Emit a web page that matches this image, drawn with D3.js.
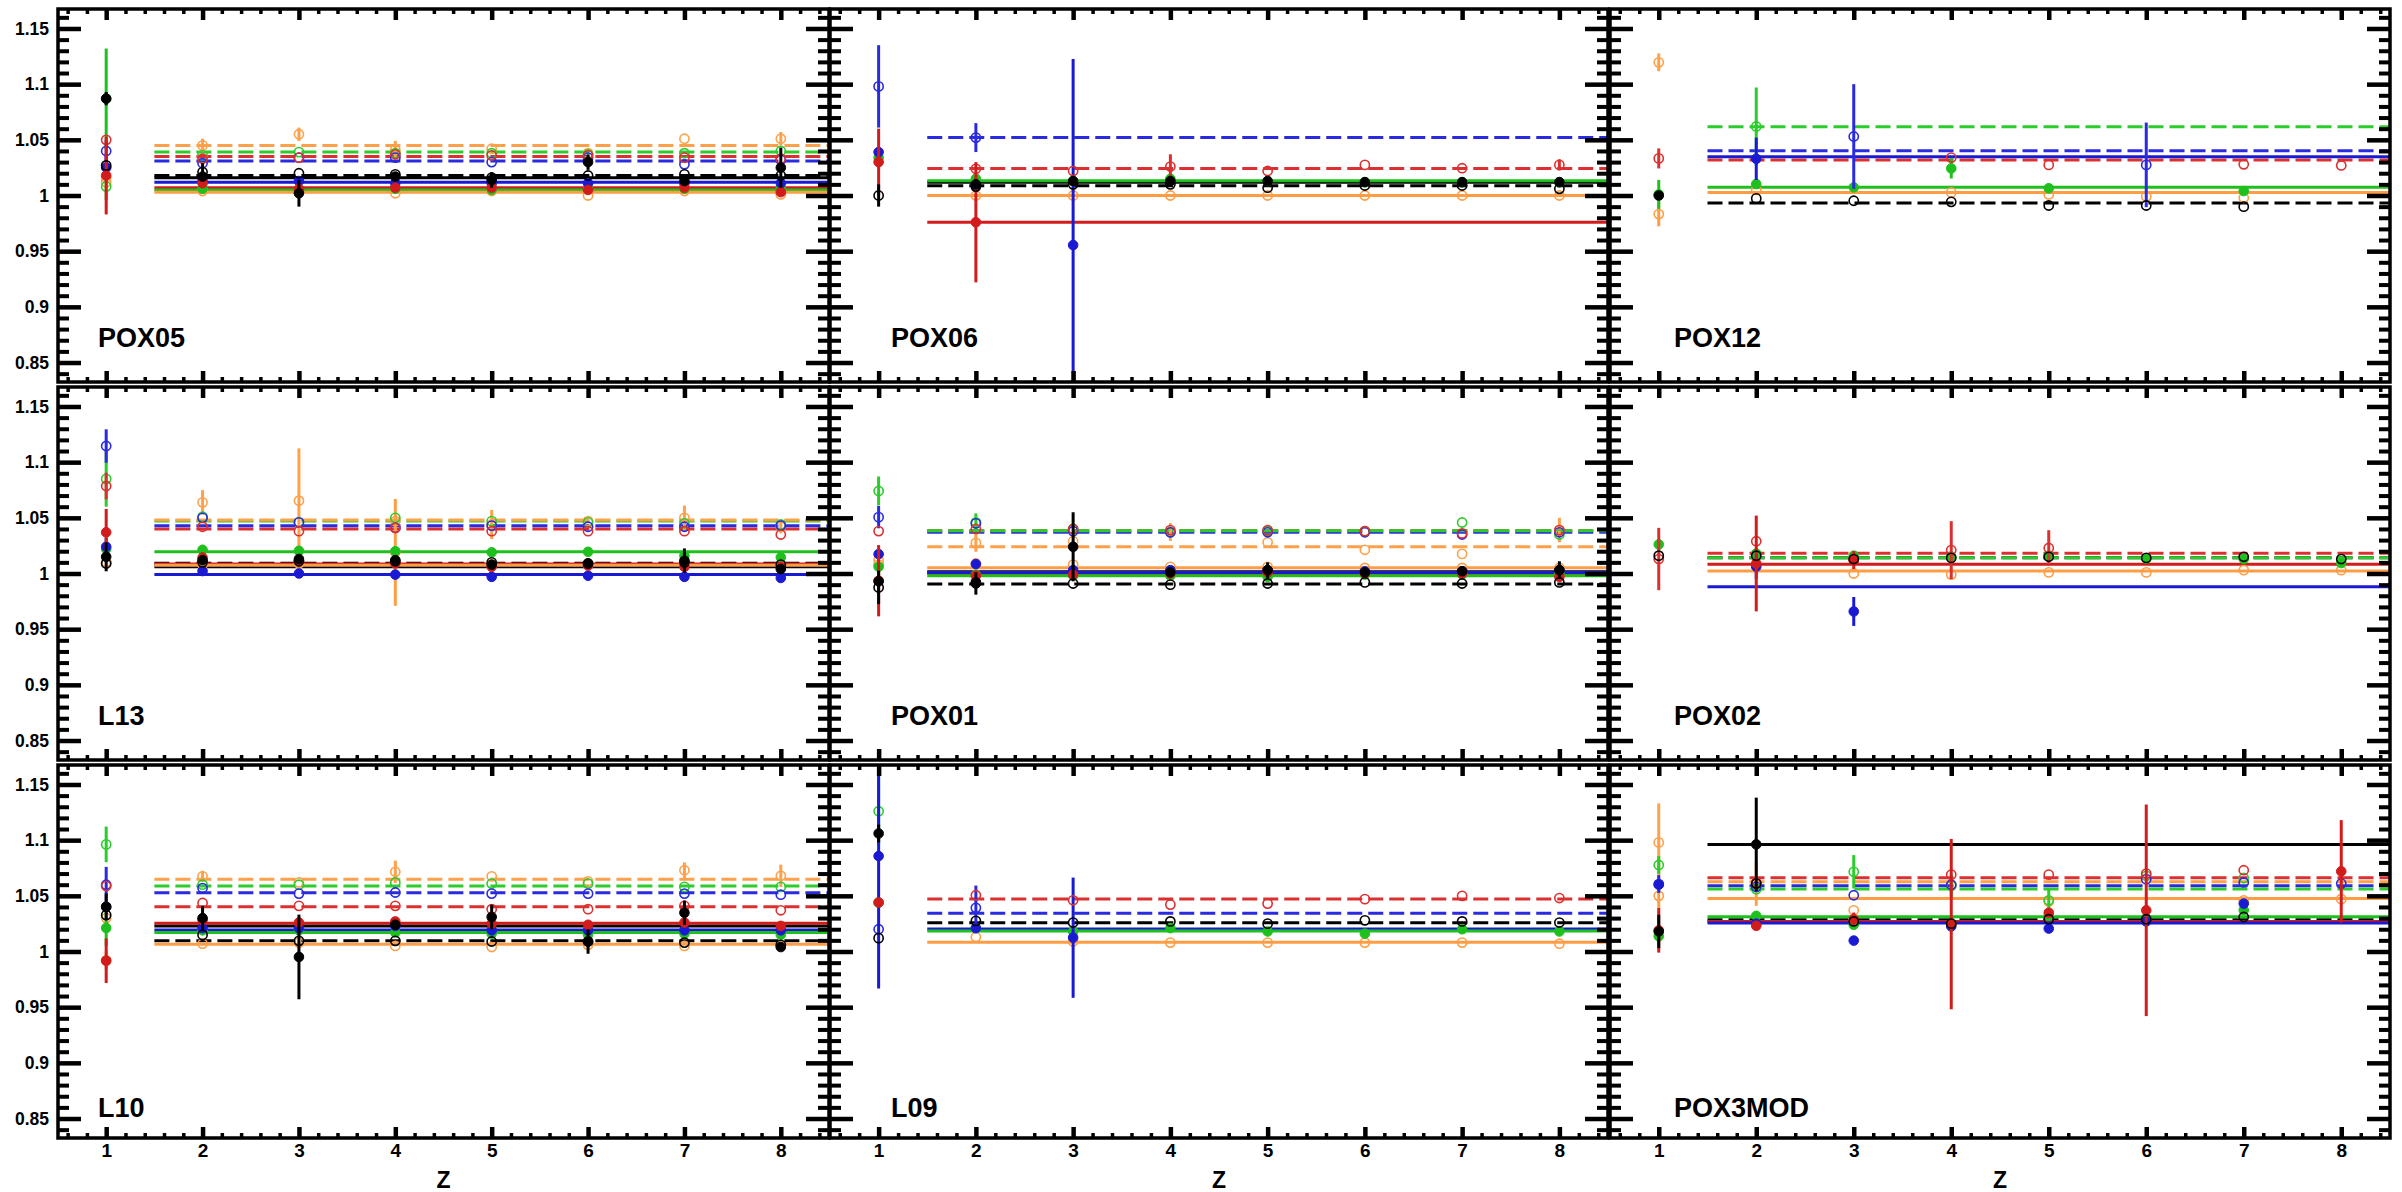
<!DOCTYPE html>
<html>
<head>
<meta charset="utf-8">
<script src="https://cdn.jsdelivr.net/npm/d3@7"></script>
<style>
  body { margin: 0; background: #ffffff; }
  svg { display: block; }
  text { font-family: "Liberation Sans", Arial, Helvetica, sans-serif; font-weight: bold; fill: #000; }
</style>
</head>
<body>
<svg id="chart" width="2402" height="1192"></svg>
<script>
// ---- axis content ----
const zValues = [1, 2, 3, 4, 5, 6, 7, 8];
const xTickLabels = ["1", "2", "3", "4", "5", "6", "7", "8"];
const yTicks = [0.85, 0.9, 0.95, 1, 1.05, 1.1, 1.15];
const yTickLabels = ["0.85", "0.9", "0.95", "1", "1.05", "1.1", "1.15"];
const xTitle = "Z";
const panelNames = ["POX05", "POX06", "POX12", "L13", "POX01", "POX02", "L10", "L09", "POX3MOD"];

// ---- series: colour pairs, filled points with solid fit, open points with dashed fit ----
// order: black●, black○, red●, red○, blue●, blue○, green●, green○, orange (solid fit), orange (dashed fit)
const seriesColor  = ["#000000", "#000000", "#d21c1c", "#dc3030", "#1a1ad2", "#2a2ae0", "#1ec01e", "#2ccc2c", "#ff9d45", "#ffa04a"];
const seriesFilled = [true, false, true, false, true, false, true, false, false, false];
const seriesDashed = [false, true, false, true, false, true, false, true, false, true];

// ---- per-panel values: fit constants, points (Z = 1..8), visible error bars [series, Z, error] ----
const POX05_fit = [1.016, 1.018, 1.007, 1.035, 1.012, 1.031, 1.005, 1.039, 1.003, 1.045];
const POX05_val = [
  [1.087, 1.017, 1.002, 1.017, 1.014, 1.030, 1.013, 1.025],
  [1.027, 1.021, 1.020, 1.019, 1.016, 1.018, 1.019, 1.018],
  [1.018, 1.011, 1.006, 1.007, 1.007, 1.005, 1.007, 1.003],
  [1.050, 1.033, 1.034, 1.037, 1.036, 1.036, 1.034, 1.033],
  [1.025, 1.013, 1.013, 1.011, 1.011, 1.011, 1.011, 1.011],
  [1.040, 1.029, 1.034, 1.034, 1.030, 1.034, 1.028, 1.032],
  [1.087, 1.006, 1.004, 1.006, 1.005, 1.006, 1.006, 1.006],
  [1.008, 1.036, 1.039, 1.038, 1.038, 1.037, 1.038, 1.040],
  [1.012, 1.004, 1.003, 1.002, 1.004, 1.000, 1.004, 1.001],
  [1.016, 1.045, 1.055, 1.041, 1.042, 1.038, 1.051, 1.051]
];
const POX05_err = [[0,1,0.006],[6,1,0.045],[7,1,0.012],[2,1,0.035],[5,1,0.010],[4,1,0.012],[0,3,0.012],[0,5,0.007],[0,6,0.007],[0,8,0.018],[9,2,0.006],[9,3,0.006],[9,4,0.008],[9,8,0.006],[1,2,0.008]];

const POX06_fit = [1.012, 1.0088, 0.9759, 1.0243, null, 1.0522, 1.0133, null, 1.000, null];
const POX06_val = [
  [null, 1.010, 1.013, 1.013, 1.013, 1.012, 1.012, 1.012],
  [1.000, 1.008, 1.010, 1.010, 1.007, 1.009, 1.009, 1.006],
  [1.030, 0.976, null, null, null, null, null, null],
  [null, 1.024, 1.022, 1.026, 1.022, 1.0275, 1.0245, 1.0275],
  [1.039, 1.009, 0.9555, null, null, null, null, null],
  [1.098, 1.052, null, null, null, null, null, null],
  [1.034, 1.015, 1.013, 1.015, 1.013, 1.012, 1.012, 1.012],
  [null, null, null, null, null, null, null, null],
  [null, 1.000, 1.000, 1.000, 1.000, 1.000, 1.000, 1.000],
  [null, null, null, null, null, null, null, null]
];
const POX06_err = [[5,1,0.037],[2,1,0.030],[1,1,0.010],[5,2,0.013],[2,2,0.054],[4,3,0.167],[3,4,0.011],[3,8,0.005],[6,4,0.005]];

const POX12_fit = [null, 0.9932, null, 1.0318, 1.0348, 1.0402, 1.0073, 1.0618, 1.0028, null];
const POX12_val = [
  [1.000, null, null, null, null, null, null, null],
  [null, 0.9974, 0.9953, 0.9943, 0.991, 0.991, 0.990, null],
  [null, null, null, null, null, null, null, null],
  [1.0333, null, null, 1.034, 1.0275, null, 1.028, 1.027],
  [null, 1.033, null, null, null, null, null, null],
  [null, null, 1.053, null, null, 1.0275, null, null],
  [1.001, 1.0103, 1.0073, 1.0243, 1.0065, null, 1.004, null],
  [null, 1.062, null, null, null, null, null, null],
  [0.9833, 1.005, null, 1.0028, 1.001, 0.999, 0.998, null],
  [1.1196, null, null, null, null, null, null, null]
];
const POX12_err = [[9,1,0.008],[3,1,0.009],[6,1,0.013],[8,1,0.011],[7,2,0.035],[4,2,0.019],[5,3,0.047],[6,4,0.009],[5,6,0.038]];

const L13_fit = [1.006, 1.0091, 1.0085, 1.0399, 0.999, 1.0429, 1.0195, 1.0471, 1.0075, 1.048];
const L13_val = [
  [1.015, 1.012, 1.013, 1.012, 1.008, 1.009, 1.0115, 1.004],
  [1.009, 1.010, 1.011, 1.011, 1.010, 1.009, 1.010, 1.008],
  [1.037, 1.0142, 1.0114, 1.009, 1.006, 1.007, 1.006, 1.006],
  [1.0786, 1.042, 1.038, 1.041, 1.038, 1.038, 1.038, 1.035],
  [1.024, 1.0022, 1.000, 0.999, 0.997, 0.998, 0.997, 0.996],
  [1.1145, 1.050, 1.046, 1.041, 1.043, 1.042, 1.042, 1.043],
  [1.022, 1.0213, 1.0204, 1.020, 1.019, 1.0195, 1.016, 1.0145],
  [1.085, 1.051, 1.046, 1.050, 1.047, 1.046, 1.045, 1.044],
  [1.010, 1.008, 1.009, 1.019, 1.008, 1.008, 1.009, 1.008],
  [1.010, 1.0639, 1.0654, 1.047, 1.044, 1.047, 1.050, 1.042]
];
const L13_err = [[5,1,0.015],[7,1,0.025],[3,1,0.012],[2,1,0.021],[6,1,0.006],[4,1,0.008],[0,1,0.013],[9,2,0.011],[9,3,0.047],[8,4,0.048],[9,5,0.013],[9,7,0.011],[0,7,0.011],[9,8,0.006],[2,2,0.005]];

const POX01_fit = [1.0015, 0.9905, 1.000, 1.0385, 1.001, 1.037, 0.998, 1.0385, 1.0052, 1.024];
const POX01_val = [
  [0.993, 0.991, 1.024, 1.001, 1.003, 1.001, 1.002, 1.003],
  [0.9875, 0.992, 0.991, 0.990, 0.991, 0.992, 0.991, 0.992],
  [0.9935, 0.998, 0.999, 1.000, 1.001, 1.000, 1.000, 0.997],
  [1.0381, 1.040, 1.040, 1.039, 1.039, 1.038, 1.036, 1.039],
  [1.0174, 1.0085, 1.003, 1.003, 1.003, 1.002, 1.002, 1.003],
  [1.0506, 1.045, 1.038, 1.037, 1.037, 1.037, 1.035, 1.037],
  [1.0061, 0.999, 0.998, 0.998, 0.997, 0.999, 0.999, 1.000],
  [1.0741, 1.046, 1.040, 1.037, 1.038, 1.038, 1.0458, 1.035],
  [1.008, 1.009, 1.008, 1.006, 1.006, 1.005, 1.005, 1.005],
  [1.012, 1.0275, 1.029, 1.0373, 1.028, 1.0213, 1.0176, 1.039]
];
const POX01_err = [[7,1,0.013],[5,1,0.010],[2,1,0.032],[1,1,0.015],[0,2,0.010],[0,3,0.031],[9,4,0.008],[0,5,0.007],[9,8,0.011],[0,8,0.008],[7,2,0.008],[9,2,0.008],[8,1,0.010]];

const POX02_fit = [null, 1.0142, 1.0082, 1.0181, 0.9881, null, null, 1.0142, 1.0022, null];
const POX02_val = [
  [null, null, null, null, null, null, null, null],
  [1.016, 1.016, 1.013, 1.014, 1.015, 1.014, 1.015, 1.013],
  [null, 1.009, 1.012, null, null, null, null, null],
  [1.013, 1.029, 1.012, 1.021, 1.0229, null, null, null],
  [null, 1.0061, 0.9659, null, null, null, null, null],
  [null, null, null, null, null, null, null, null],
  [1.0261, 1.018, 1.016, 1.015, 1.016, 1.0133, 1.013, 1.0094],
  [null, null, null, null, null, null, null, null],
  [null, null, 1.000, 0.999, 1.001, 1.001, 1.003, 1.003],
  [null, null, null, null, null, null, null, null]
];
const POX02_err = [[3,1,0.028],[2,2,0.043],[4,2,0.011],[4,3,0.013],[2,3,0.008],[3,4,0.026],[3,5,0.016],[6,1,0.005],[6,3,0.004]];

const L10_fit = [1.023, 1.0096, 1.0253, 1.0402, 1.0193, 1.0528, 1.017, 1.0588, 1.0066, 1.0648];
const L10_val = [
  [1.0402, 1.030, 0.9951, 1.024, 1.031, 1.009, 1.0348, 1.004],
  [1.0327, 1.0149, 1.0096, 1.0096, 1.009, 1.009, 1.008, 1.006],
  [0.9917, 1.0283, 1.026, 1.027, 1.025, 1.024, 1.026, 1.023],
  [1.0588, 1.0436, 1.041, 1.041, 1.038, 1.038, 1.041, 1.037],
  [1.040, 1.021, 1.021, 1.023, 1.019, 1.019, 1.019, 1.019],
  [1.060, 1.057, 1.052, 1.053, 1.052, 1.052, 1.052, 1.051],
  [1.0211, 1.019, 1.019, 1.017, 1.016, 1.015, 1.016, 1.015],
  [1.0962, 1.060, 1.060, 1.062, 1.061, 1.061, 1.058, 1.058],
  [0.992, 1.007, 1.008, 1.005, 1.004, 1.006, 1.005, 1.005],
  [1.030, 1.0675, 1.062, 1.0716, 1.0675, 1.063, 1.073, 1.068]
];
const L10_err = [[7,1,0.016],[5,1,0.016],[0,1,0.012],[6,1,0.016],[2,1,0.020],[8,1,0.008],[0,2,0.011],[0,3,0.038],[9,4,0.010],[0,5,0.011],[0,6,0.011],[9,7,0.007],[0,7,0.011],[9,8,0.010],[9,2,0.005]];

const L09_fit = [null, 1.0259, null, 1.0471, 1.0202, 1.0343, 1.0185, null, 1.0082, null];
const L09_val = [
  [1.106, null, null, null, null, null, null, null],
  [1.012, 1.0275, 1.026, 1.027, 1.025, 1.028, 1.027, 1.026],
  [1.044, null, null, null, null, null, null, null],
  [null, 1.0505, 1.046, 1.0421, 1.043, 1.047, 1.050, 1.048],
  [1.0857, 1.021, 1.0124, null, null, null, null, null],
  [1.020, 1.0392, null, null, null, null, null, null],
  [1.044, 1.021, 1.018, 1.021, 1.018, 1.016, 1.020, 1.018],
  [1.126, null, null, null, null, null, null, null],
  [null, 1.013, 1.009, 1.008, 1.008, 1.008, 1.008, 1.007],
  [null, null, null, null, null, null, null, null]
];
const L09_err = [[0,1,0.008],[7,1,0.030],[4,1,0.119],[5,2,0.020],[4,3,0.054]];

const POX3MOD_fit = [1.0962, 1.0285, 1.027, 1.0663, 1.0255, 1.0591, 1.0312, 1.0561, 1.0477, 1.0627];
const POX3MOD_val = [
  [1.018, 1.0962, null, null, null, null, null, null],
  [null, 1.061, 1.027, 1.025, 1.029, 1.029, 1.031, null],
  [1.019, 1.0231, 1.029, 1.0246, 1.0348, 1.037, null, 1.072],
  [null, 1.062, null, 1.069, 1.069, 1.070, 1.073, null],
  [1.060, 1.025, 1.0098, 1.0226, 1.0206, 1.027, 1.043, null],
  [1.0606, 1.058, 1.0505, 1.060, null, 1.065, 1.062, 1.061],
  [1.0137, 1.032, 1.024, 1.025, 1.032, 1.030, 1.0372, null],
  [1.0777, 1.056, 1.0716, 1.059, 1.046, 1.068, 1.066, null],
  [1.050, null, 1.037, 1.060, 1.045, null, 1.046, 1.047],
  [1.098, 1.061, null, null, null, null, null, null]
];
const POX3MOD_err = [[9,1,0.035],[8,1,0.012],[7,1,0.008],[5,1,0.008],[2,1,0.020],[0,1,0.015],[0,2,0.042],[9,2,0.020],[7,3,0.015],[2,3,0.006],[2,4,0.0765],[7,4,0.010],[7,5,0.010],[2,6,0.095],[2,8,0.046]];

const panelFits = [POX05_fit, POX06_fit, POX12_fit, L13_fit, POX01_fit, POX02_fit, L10_fit, L09_fit, POX3MOD_fit];
const panelVals = [POX05_val, POX06_val, POX12_val, L13_val, POX01_val, POX02_val, L10_val, L09_val, POX3MOD_val];
const panelErrs = [POX05_err, POX06_err, POX12_err, L13_err, POX01_err, POX02_err, L10_err, L09_err, POX3MOD_err];

// ---- layout ----
const colLeft = [58, 830, 1610];
const colWidth = [771, 778, 780];
const rowTop = [9, 387, 765];
const rowH = 373;
const yDomain = [0.8325, 1.1675];
const xDomain = [0.5, 8.5];
const fitRange = [1.5, 8.5];
const labelDx = [40, 61, 64];
const labelDy = [338, 338, 352];
const fontStack = "Liberation Sans, Arial, Helvetica, sans-serif";

const svg = d3.select("#chart");
svg.append("rect").attr("width", 2402).attr("height", 1192).attr("fill", "#fff");

const yMinor = d3.range(84, 117).map(d => d / 100).filter(v => !yTicks.some(t => Math.abs(t - v) < 1e-6));
const xMinor = d3.range(3, 43).map(d => d / 5).filter(v => Math.abs(v - Math.round(v)) > 1e-6);

function styleAxis(g, width, size) {
  g.select(".domain").remove();
  g.selectAll(".tick line").attr("stroke", "#000").attr("stroke-width", width);
  g.attr("font-family", fontStack).attr("font-weight", "bold");
  if (size) g.attr("font-size", size);
}

panelNames.forEach((name, i) => {
  const r = Math.floor(i / 3), c = i % 3;
  const left = colLeft[c], top = rowTop[r], w = colWidth[c];
  const x = d3.scaleLinear().domain(xDomain).range([left, left + w]);
  const y = d3.scaleLinear().domain(yDomain).range([top + rowH, top]);

  const clipId = "clip" + i;
  svg.append("clipPath").attr("id", clipId)
    .append("rect").attr("x", left).attr("y", top).attr("width", w).attr("height", rowH);

  const plot = svg.append("g").attr("clip-path", `url(#${clipId})`);

  // fitted constants over Z = 1.5 .. 8.5
  const fits = panelFits[i];
  const lineOrder = [1, 3, 5, 7, 9, 0, 2, 4, 6, 8];
  lineOrder.forEach(s => {
    if (fits[s] == null) return;
    plot.append("line")
      .attr("x1", x(fitRange[0])).attr("x2", x(fitRange[1]))
      .attr("y1", y(fits[s])).attr("y2", y(fits[s]))
      .attr("stroke", seriesColor[s]).attr("stroke-width", 3)
      .attr("stroke-dasharray", seriesDashed[s] ? "15,6" : null);
  });

  // points with error bars, orange first, black last
  const vals = panelVals[i];
  const errs = panelErrs[i];
  const drawOrder = [9, 8, 7, 6, 5, 4, 3, 2, 1, 0];
  drawOrder.forEach(s => {
    const pts = zValues.map((z, k) => ({ z, v: vals[s][k] })).filter(p => p.v != null);
    errs.filter(e => e[0] === s).forEach(([, z, e]) => {
      const v = vals[s][z - 1];
      if (v == null) return;
      plot.append("line")
        .attr("x1", x(z)).attr("x2", x(z))
        .attr("y1", y(v - e)).attr("y2", y(v + e))
        .attr("stroke", seriesColor[s]).attr("stroke-width", 3);
    });
    plot.selectAll(null).data(pts).enter().append("circle")
      .attr("cx", p => x(p.z)).attr("cy", p => y(p.v))
      .attr("r", seriesFilled[s] ? 4.8 : 4.6)
      .attr("fill", seriesFilled[s] ? seriesColor[s] : "none")
      .attr("stroke", seriesColor[s])
      .attr("stroke-width", seriesFilled[s] ? 1 : 1.6);
  });

  // axes: ticks on all four sides, pointing inward
  const gL = svg.append("g").attr("transform", `translate(${left},0)`);
  gL.call(d3.axisLeft(y).tickValues(yTicks).tickSize(-23).tickPadding(9)
    .tickFormat((d, k) => c === 0 ? yTickLabels[k] : ""));
  styleAxis(gL, 4.5, 17.5);
  const gLm = svg.append("g").attr("transform", `translate(${left},0)`);
  gLm.call(d3.axisLeft(y).tickValues(yMinor).tickSize(-11).tickFormat(""));
  styleAxis(gLm, 4);

  const gR = svg.append("g").attr("transform", `translate(${left + w},0)`);
  gR.call(d3.axisRight(y).tickValues(yTicks).tickSize(-23).tickFormat(""));
  styleAxis(gR, 4.5);
  const gRm = svg.append("g").attr("transform", `translate(${left + w},0)`);
  gRm.call(d3.axisRight(y).tickValues(yMinor).tickSize(-11).tickFormat(""));
  styleAxis(gRm, 4);

  const gB = svg.append("g").attr("transform", `translate(0,${top + rowH})`);
  gB.call(d3.axisBottom(x).tickValues(zValues).tickSize(-11).tickPadding(6)
    .tickFormat((d, k) => r === 2 ? xTickLabels[k] : ""));
  styleAxis(gB, 4.5, 19);
  const gBm = svg.append("g").attr("transform", `translate(0,${top + rowH})`);
  gBm.call(d3.axisBottom(x).tickValues(xMinor).tickSize(-5).tickFormat(""));
  styleAxis(gBm, 3.5);

  const gT = svg.append("g").attr("transform", `translate(0,${top})`);
  gT.call(d3.axisTop(x).tickValues(zValues).tickSize(-11).tickFormat(""));
  styleAxis(gT, 4.5);
  const gTm = svg.append("g").attr("transform", `translate(0,${top})`);
  gTm.call(d3.axisTop(x).tickValues(xMinor).tickSize(-5).tickFormat(""));
  styleAxis(gTm, 3.5);

  // frame
  svg.append("rect").attr("x", left).attr("y", top).attr("width", w).attr("height", rowH)
    .attr("fill", "none").attr("stroke", "#000").attr("stroke-width", 3.5);

  // panel name
  svg.append("text").attr("x", left + labelDx[c]).attr("y", top + labelDy[r])
    .attr("font-size", 27).text(name);

  // x title under the bottom row
  if (r === 2) {
    svg.append("text").attr("x", left + w / 2).attr("y", 1188)
      .attr("text-anchor", "middle").attr("font-size", 23).text(xTitle);
  }
});
</script>
</body>
</html>
